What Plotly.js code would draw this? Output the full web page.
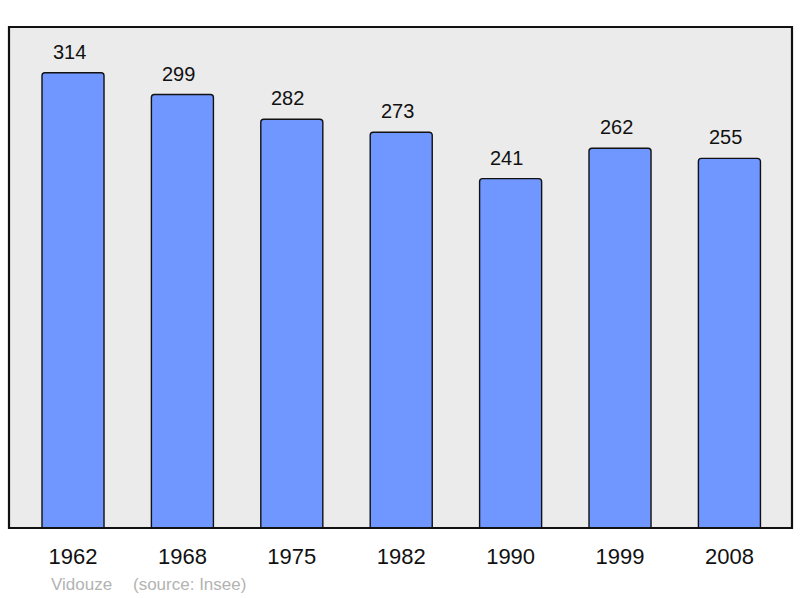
<!DOCTYPE html>
<html>
<head>
<meta charset="utf-8">
<script src="https://cdn.plot.ly/plotly-3.0.1.min.js"></script>
<style>
html,body{margin:0;padding:0;background:#fff;}
#chart{width:800px;height:598px;}
</style>
</head>
<body>
<div id="chart"></div>
<script>
var years = ["1962","1968","1975","1982","1990","1999","2008"];
var population = [314, 299, 282, 273, 241, 262, 255];
var commune = "Vidouze";
var source = "(source: Insee)";

var positions = years.map(function(_, i){ return i; });
var FONT = "Liberation Sans, Arial, sans-serif";

var trace = {
  type: "bar",
  x: positions,
  y: population,
  width: 0.567,
  marker: {
    color: "#7096ff",
    line: {color: "#111111", width: 1.4},
    cornerradius: 3
  },
  hoverinfo: "none"
};

var annotations = population.map(function(v, i){
  return {
    x: i, y: v, xref: "x", yref: "y",
    text: String(v), showarrow: false,
    yanchor: "middle", yshift: 21, xshift: -4,
    font: {family: FONT, size: 20, color: "#111"}
  };
});
annotations.push({
  xref: "paper", yref: "paper", x: (49-9)/783, y: -(584-528)/501,
  xanchor: "left", yanchor: "middle", showarrow: false,
  text: commune, font: {family: FONT, size: 17, color: "#b3b3b3"}
});
annotations.push({
  xref: "paper", yref: "paper", x: (131-9)/783, y: -(584-528)/501,
  xanchor: "left", yanchor: "middle", showarrow: false,
  text: source, font: {family: FONT, size: 17, color: "#b3b3b3"}
});

var layout = {
  width: 800, height: 598,
  margin: {l: 9, r: 8, t: 27, b: 70, pad: 0},
  paper_bgcolor: "#ffffff",
  plot_bgcolor: "#ebebeb",
  showlegend: false,
  xaxis: {
    range: [-0.585, 6.572],
    tickvals: positions, ticktext: years,
    showgrid: false, zeroline: false, showline: false,
    ticks: "", ticklabelstandoff: 13,
    tickfont: {family: FONT, size: 22, color: "#111"},
    fixedrange: true
  },
  yaxis: {
    range: [0, 345.6],
    showgrid: false, zeroline: false, showline: false,
    showticklabels: false, ticks: "",
    fixedrange: true
  },
  shapes: [{
    type: "rect", xref: "paper", yref: "paper",
    x0: 0, x1: 1, y0: 0, y1: 1,
    line: {color: "#111111", width: 2.2},
    fillcolor: "rgba(0,0,0,0)", layer: "above"
  }],
  annotations: annotations
};

Plotly.newPlot("chart", [trace], layout, {displayModeBar: false, staticPlot: true});
</script>
</body>
</html>
